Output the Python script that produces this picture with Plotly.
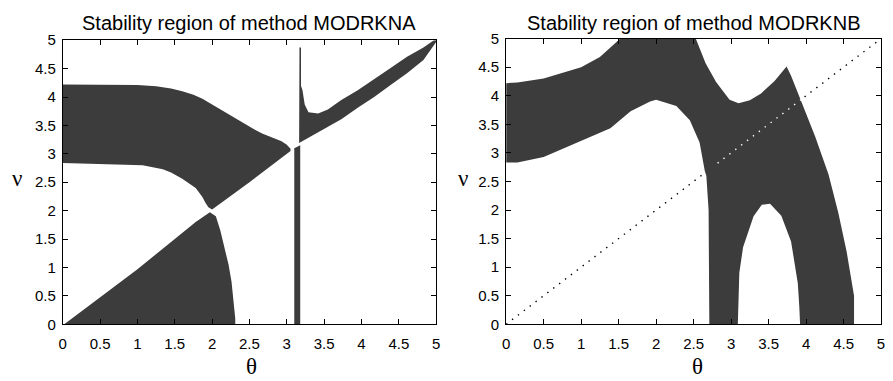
import plotly.graph_objects as go

# ---------------- data ----------------
# MODRKNA: upper wedge
a_up_theta = [0.0, 0.8, 1.0, 1.25, 1.45, 1.6, 1.75, 1.87, 2.0, 2.13, 2.27, 2.4, 2.55, 2.67, 2.8, 2.93, 3.0, 3.05,
              3.05, 2.5, 2.0, 1.95, 1.91, 1.87, 1.78, 1.6, 1.45, 1.34, 1.07, 0.58, 0.0]
a_up_nu    = [4.22, 4.22, 4.21, 4.19, 4.15, 4.1, 4.04, 3.97, 3.87, 3.76, 3.65, 3.55, 3.44, 3.36, 3.29, 3.22, 3.16, 3.09,
              3.05, 2.5, 2.02, 2.06, 2.14, 2.24, 2.4, 2.56, 2.67, 2.73, 2.8, 2.82, 2.84]
# MODRKNA: lower wedge
a_lo_theta = [0.02, 0.5, 1.0, 1.5, 1.78, 1.97, 2.05, 2.11, 2.17, 2.22, 2.26, 2.29, 2.31, 2.31]
a_lo_nu    = [0.0, 0.48, 0.97, 1.5, 1.8, 1.97, 1.9, 1.65, 1.35, 1.05, 0.75, 0.4, 0.1, 0.0]
# MODRKNA: narrow vertical strip near theta = pi
a_st_theta = [3.10, 3.18, 3.18, 3.10]
a_st_nu    = [0.0, 0.0, 3.15, 3.1]
# MODRKNA: upper-right band with spike
a_bd_theta = [3.165, 3.29, 3.51, 3.73, 3.95, 4.17, 4.39, 4.61, 4.83, 5.0, 5.0, 4.97, 4.83, 4.61, 4.39, 4.17, 3.95, 3.73, 3.55, 3.42, 3.29, 3.24, 3.21, 3.19, 3.19, 3.17]
a_bd_nu    = [3.19, 3.28, 3.45, 3.61, 3.81, 4.0, 4.21, 4.42, 4.65, 4.97, 5.0, 5.0, 4.87, 4.71, 4.51, 4.31, 4.12, 3.95, 3.78, 3.71, 3.73, 3.87, 4.12, 4.2, 4.87, 4.87]

# MODRKNB: single region (with hole notch)
b_theta = [0.0, 0.0, 0.15, 0.5, 1.0, 1.25, 1.52, 2.53, 2.66, 2.8, 2.98, 3.1, 3.25, 3.4, 3.58, 3.74, 3.8, 3.94, 4.12, 4.3, 4.43, 4.54, 4.62, 4.64, 4.64,
           3.92, 3.91, 3.89, 3.8, 3.67, 3.52, 3.41, 3.3, 3.24, 3.16, 3.11, 3.09,
           2.71, 2.7, 2.67, 2.65, 2.58, 2.45, 2.27, 2.0, 1.92, 1.66, 1.39, 0.95, 0.5, 0.15, 0.0]
b_nu    = [2.83, 4.22, 4.23, 4.3, 4.5, 4.68, 5.0, 5.0, 4.57, 4.24, 3.93, 3.87, 3.92, 4.04, 4.26, 4.51, 4.35, 3.9, 3.29, 2.62, 1.95, 1.28, 0.67, 0.5, 0.0,
           0.0, 0.3, 0.72, 1.45, 1.9, 2.11, 2.09, 1.89, 1.65, 1.35, 0.9, 0.0,
           0.0, 2.0, 2.6, 2.68, 3.18, 3.57, 3.82, 3.93, 3.9, 3.73, 3.43, 3.18, 2.93, 2.83, 2.83]
# MODRKNB: dotted diagonal nu = theta
diag1_theta = [0.0, 2.62]
diag2_theta = [2.82, 3.96]
diag3_theta = [3.98, 5.0]

ticks = [0, 0.5, 1, 1.5, 2, 2.5, 3, 3.5, 4, 4.5, 5]
titles = ["Stability region of method MODRKNA", "Stability region of method MODRKNB"]

# ---------------- figure ----------------
FILL = "#3c3c3c"

fig = go.Figure()

def region(th, nu, xa, ya):
    fig.add_trace(go.Scatter(x=th, y=nu, mode="lines", fill="toself",
                             fillcolor=FILL, line=dict(width=0, color=FILL),
                             xaxis=xa, yaxis=ya, hoverinfo="skip", showlegend=False))

for th, nu in [(a_up_theta, a_up_nu), (a_lo_theta, a_lo_nu), (a_st_theta, a_st_nu), (a_bd_theta, a_bd_nu)]:
    region(th, nu, "x", "y")
region(b_theta, b_nu, "x2", "y2")

for th, col in [(diag1_theta, "black"), (diag2_theta, "white"), (diag3_theta, "black")]:
    fig.add_trace(go.Scatter(x=th, y=th, mode="lines",
                             line=dict(color=col, width=1.4, dash="1.4px,6px"),
                             xaxis="x2", yaxis="y2", hoverinfo="skip", showlegend=False))

axis_common = dict(range=[0, 5], tickmode="array", tickvals=ticks, ticktext=[f"{t:g}" for t in ticks],
                   ticks="inside", ticklen=5, tickcolor="black", tickwidth=1,
                   showline=True, linecolor="black", linewidth=1, mirror="ticks",
                   showgrid=False, zeroline=False,
                   tickfont=dict(family="Liberation Sans, Arial, sans-serif", size=15, color="black"))

fig.update_layout(
    width=893, height=381, margin=dict(l=0, r=0, t=0, b=0),
    paper_bgcolor="white", plot_bgcolor="white", showlegend=False,
    xaxis=dict(domain=[0.0664, 0.4883], anchor="y", ticklabelstandoff=6, **axis_common),
    yaxis=dict(domain=[0.1339, 0.9142], anchor="x", ticklabelstandoff=3, **axis_common),
    xaxis2=dict(domain=[0.5674, 0.9910], anchor="y2", ticklabelstandoff=6, **axis_common),
    yaxis2=dict(domain=[0.1339, 0.9186], anchor="x2", ticklabelstandoff=3, **axis_common),
)

title_font = dict(family="Liberation Sans, Arial, sans-serif", size=20, color="black")
sym_font = dict(family="Liberation Serif, Times New Roman, serif", size=23, color="black")
annots = [
    dict(text=titles[0], x=0.2773, y=0.9606, font=title_font),
    dict(text=titles[1], x=0.7792, y=0.9606, font=title_font),
    dict(text="θ", x=0.2800, y=0.018, font=sym_font),
    dict(text="θ", x=0.7840, y=0.018, font=sym_font),
    dict(text="ν", x=0.0146, y=0.534, font=sym_font),
    dict(text="ν", x=0.5185, y=0.534, font=sym_font),
]
for a in annots:
    fig.add_annotation(xref="paper", yref="paper", showarrow=False, xanchor="center", yanchor="middle", **a)

fig.write_html("out.html")
